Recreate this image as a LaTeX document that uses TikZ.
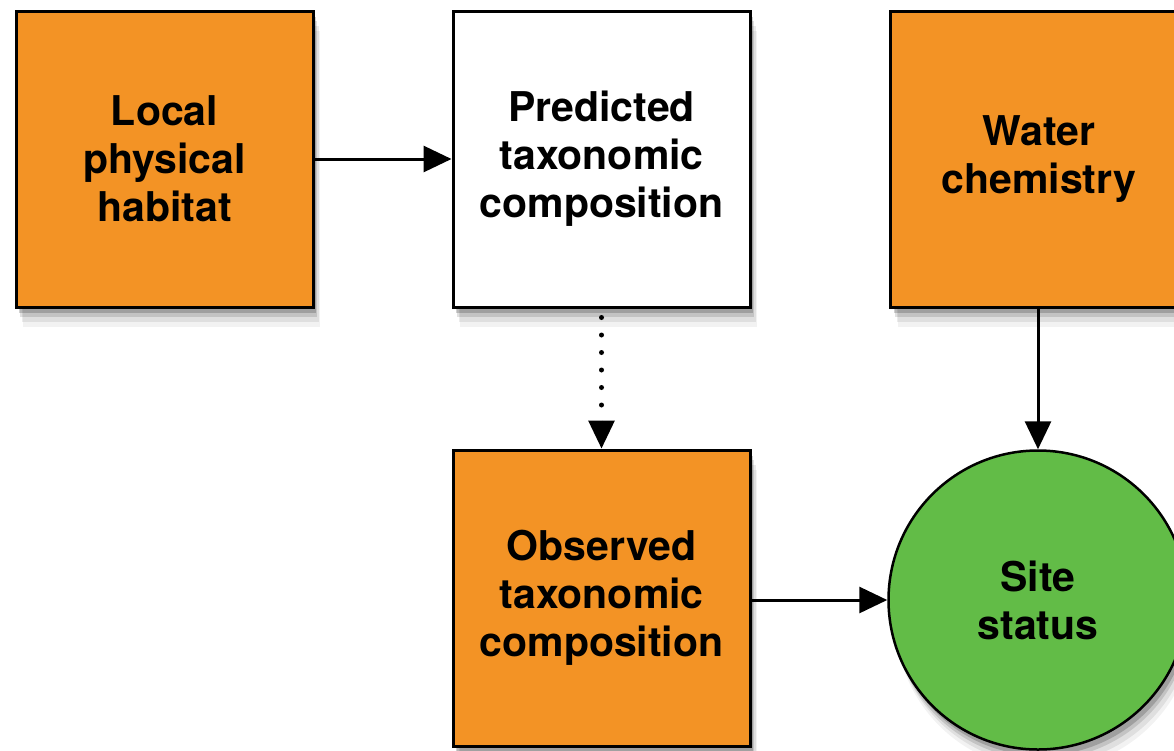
\documentclass[tikz,border=0pt]{standalone}
\usepackage{fontspec}
\setmainfont{TeX Gyre Heros}
\usetikzlibrary{arrows.meta,shadows}
\definecolor{boxorange}{HTML}{F39325}
\definecolor{sitegreen}{HTML}{62BC47}
\tikzset{
  softshadow/.style={
    general shadow={fill=black,opacity=.05,shadow xshift=7pt,shadow yshift=-20pt},
    general shadow={fill=black,opacity=.08,shadow xshift=6pt,shadow yshift=-15pt},
    general shadow={fill=black,opacity=.12,shadow xshift=4pt,shadow yshift=-10pt},
    general shadow={fill=black,opacity=.18,shadow xshift=3pt,shadow yshift=-6pt}},
  box/.style={draw=black,line width=3pt,minimum width=297pt,minimum height=296pt,
    inner sep=0pt,align=center,softshadow,
    font=\fontsize{41}{48}\selectfont\bfseries},
  orangebox/.style={box,fill=boxorange},
  whitebox/.style={box,fill=white},
  sitecircle/.style={circle,draw=black,line width=2.5pt,fill=sitegreen,minimum size=299pt,
    inner sep=0pt,align=center,softshadow,font=\fontsize{41}{48}\selectfont\bfseries},
  conn/.style={line width=3pt,-{Triangle[length=28pt,width=26pt]}},
  dotline/.style={line width=5pt,dash pattern=on 0pt off 17.5pt,line cap=round}
}
\begin{document}
\begin{tikzpicture}[x=1pt,y=-1pt]
\useasboundingbox (0,0) rectangle (1174,750);
\clip (0,0) rectangle (1174,750);
\fill[white] (0,0) rectangle (1174,750);
\node[orangebox] (local) at (164.5,159) {Local\\physical\\habitat};
\node[whitebox] (pred) at (601.5,159) {Predicted\\taxonomic\\composition};
\node[orangebox] (water) at (1039,159) {Water\\chemistry};
\node[orangebox] (obs) at (601.5,598) {Observed\\taxonomic\\composition};
\node[sitecircle] (site) at (1038,600) {Site\\status};
\draw[conn] (local.east) -- (pred.west);
\draw[conn] (water.south -| site.north) -- (site.north);
\draw[conn] (obs.east |- site.west) -- (site.west);
\draw[dotline] ([yshift=-9pt]pred.south) -- ([yshift=32pt]obs.north);
\draw[conn] ([yshift=28pt]obs.north) -- (obs.north);
\end{tikzpicture}
\end{document}
